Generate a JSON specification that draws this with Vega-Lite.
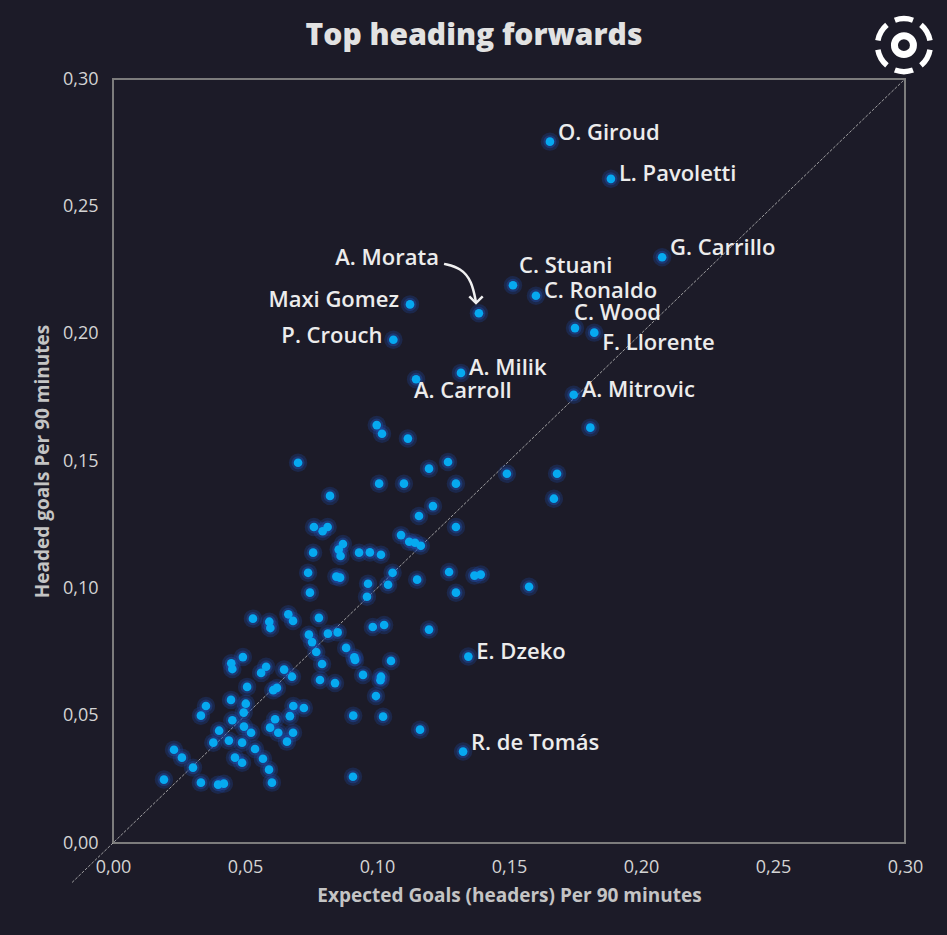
{
  "$schema": "https://vega.github.io/schema/vega-lite/v6.json",
  "width": 792,
  "height": 764,
  "autosize": {"type": "none"},
  "padding": {"left": 113, "top": 79, "right": 42, "bottom": 92},
  "background": "#1c1b28",
  "title": {"text": "Top heading forwards", "anchor": "middle", "dx": -35, "offset": -67, "baseline": "alphabetic", "font": "Open Sans", "fontSize": 30, "fontWeight": 800, "color": "#e2e2e2"},
  "config": {
    "view": {"stroke": "#7c7c7c", "strokeWidth": 2},
    "axis": {"grid": false, "ticks": false, "domain": false, "labelFlush": false, "labelFont": "Open Sans", "labelFontSize": 18, "labelFontWeight": 500, "labelColor": "#d4d4d4", "labelPadding": 15, "titleFont": "Open Sans", "titleFontSize": 19, "titleFontWeight": "bold", "titleColor": "#c4c4c4"}
  },
  "datasets": {
    "pts": [
      {"xg": 0.1655, "goals": 0.2754, "player": "O. Giroud"},
      {"xg": 0.1886, "goals": 0.2608, "player": "L. Pavoletti"},
      {"xg": 0.2080, "goals": 0.2300, "player": "G. Carrillo"},
      {"xg": 0.1515, "goals": 0.2190, "player": "C. Stuani"},
      {"xg": 0.1602, "goals": 0.2149, "player": "C. Ronaldo"},
      {"xg": 0.1386, "goals": 0.2080, "player": "A. Morata"},
      {"xg": 0.1125, "goals": 0.2115, "player": "Maxi Gomez"},
      {"xg": 0.1062, "goals": 0.1976, "player": "P. Crouch"},
      {"xg": 0.1750, "goals": 0.2022, "player": "C. Wood"},
      {"xg": 0.1823, "goals": 0.2004, "player": "F. Llorente"},
      {"xg": 0.1318, "goals": 0.1846, "player": "A. Milik"},
      {"xg": 0.1148, "goals": 0.1821, "player": "A. Carroll"},
      {"xg": 0.1745, "goals": 0.1760, "player": "A. Mitrovic"},
      {"xg": 0.1346, "goals": 0.0732, "player": "E. Dzeko"},
      {"xg": 0.1326, "goals": 0.0359, "player": "R. de Tomás"},
      {"xg": 0.1808, "goals": 0.1631, "player": ""},
      {"xg": 0.0999, "goals": 0.1641, "player": ""},
      {"xg": 0.1019, "goals": 0.1607, "player": ""},
      {"xg": 0.1117, "goals": 0.1588, "player": ""},
      {"xg": 0.0701, "goals": 0.1493, "player": ""},
      {"xg": 0.1197, "goals": 0.1470, "player": ""},
      {"xg": 0.1269, "goals": 0.1496, "player": ""},
      {"xg": 0.1008, "goals": 0.1411, "player": ""},
      {"xg": 0.1102, "goals": 0.1411, "player": ""},
      {"xg": 0.1299, "goals": 0.1411, "player": ""},
      {"xg": 0.1492, "goals": 0.1450, "player": ""},
      {"xg": 0.1682, "goals": 0.1450, "player": ""},
      {"xg": 0.1670, "goals": 0.1352, "player": ""},
      {"xg": 0.0822, "goals": 0.1363, "player": ""},
      {"xg": 0.1212, "goals": 0.1323, "player": ""},
      {"xg": 0.1159, "goals": 0.1284, "player": ""},
      {"xg": 0.1299, "goals": 0.1241, "player": ""},
      {"xg": 0.0761, "goals": 0.1241, "player": ""},
      {"xg": 0.0794, "goals": 0.1224, "player": ""},
      {"xg": 0.0813, "goals": 0.1241, "player": ""},
      {"xg": 0.1091, "goals": 0.1209, "player": ""},
      {"xg": 0.1122, "goals": 0.1183, "player": ""},
      {"xg": 0.1144, "goals": 0.1179, "player": ""},
      {"xg": 0.1166, "goals": 0.1167, "player": ""},
      {"xg": 0.0871, "goals": 0.1174, "player": ""},
      {"xg": 0.0855, "goals": 0.1152, "player": ""},
      {"xg": 0.0862, "goals": 0.1127, "player": ""},
      {"xg": 0.0758, "goals": 0.1140, "player": ""},
      {"xg": 0.0932, "goals": 0.1140, "player": ""},
      {"xg": 0.0973, "goals": 0.1141, "player": ""},
      {"xg": 0.1015, "goals": 0.1132, "player": ""},
      {"xg": 0.1059, "goals": 0.1061, "player": ""},
      {"xg": 0.0739, "goals": 0.1061, "player": ""},
      {"xg": 0.0846, "goals": 0.1046, "player": ""},
      {"xg": 0.0860, "goals": 0.1042, "player": ""},
      {"xg": 0.0966, "goals": 0.1018, "player": ""},
      {"xg": 0.1042, "goals": 0.1014, "player": ""},
      {"xg": 0.1152, "goals": 0.1034, "player": ""},
      {"xg": 0.1273, "goals": 0.1064, "player": ""},
      {"xg": 0.1369, "goals": 0.1050, "player": ""},
      {"xg": 0.1393, "goals": 0.1054, "player": ""},
      {"xg": 0.1299, "goals": 0.0983, "player": ""},
      {"xg": 0.0746, "goals": 0.0983, "player": ""},
      {"xg": 0.0962, "goals": 0.0967, "player": ""},
      {"xg": 0.1576, "goals": 0.1006, "player": ""},
      {"xg": 0.0530, "goals": 0.0881, "player": ""},
      {"xg": 0.0592, "goals": 0.0869, "player": ""},
      {"xg": 0.0596, "goals": 0.0844, "player": ""},
      {"xg": 0.0664, "goals": 0.0898, "player": ""},
      {"xg": 0.0682, "goals": 0.0872, "player": ""},
      {"xg": 0.0780, "goals": 0.0884, "player": ""},
      {"xg": 0.0742, "goals": 0.0818, "player": ""},
      {"xg": 0.0754, "goals": 0.0789, "player": ""},
      {"xg": 0.0814, "goals": 0.0822, "player": ""},
      {"xg": 0.0851, "goals": 0.0827, "player": ""},
      {"xg": 0.0984, "goals": 0.0848, "player": ""},
      {"xg": 0.1027, "goals": 0.0856, "player": ""},
      {"xg": 0.1197, "goals": 0.0838, "player": ""},
      {"xg": 0.0770, "goals": 0.0750, "player": ""},
      {"xg": 0.0883, "goals": 0.0766, "player": ""},
      {"xg": 0.0914, "goals": 0.0729, "player": ""},
      {"xg": 0.0917, "goals": 0.0719, "player": ""},
      {"xg": 0.1053, "goals": 0.0715, "player": ""},
      {"xg": 0.0492, "goals": 0.0730, "player": ""},
      {"xg": 0.0448, "goals": 0.0706, "player": ""},
      {"xg": 0.0452, "goals": 0.0683, "player": ""},
      {"xg": 0.0580, "goals": 0.0692, "player": ""},
      {"xg": 0.0561, "goals": 0.0668, "player": ""},
      {"xg": 0.0648, "goals": 0.0681, "player": ""},
      {"xg": 0.0678, "goals": 0.0653, "player": ""},
      {"xg": 0.0792, "goals": 0.0703, "player": ""},
      {"xg": 0.0784, "goals": 0.0640, "player": ""},
      {"xg": 0.0841, "goals": 0.0628, "player": ""},
      {"xg": 0.0947, "goals": 0.0660, "player": ""},
      {"xg": 0.1015, "goals": 0.0653, "player": ""},
      {"xg": 0.1013, "goals": 0.0639, "player": ""},
      {"xg": 0.0508, "goals": 0.0613, "player": ""},
      {"xg": 0.0607, "goals": 0.0600, "player": ""},
      {"xg": 0.0621, "goals": 0.0609, "player": ""},
      {"xg": 0.0447, "goals": 0.0562, "player": ""},
      {"xg": 0.0503, "goals": 0.0547, "player": ""},
      {"xg": 0.0495, "goals": 0.0512, "player": ""},
      {"xg": 0.0352, "goals": 0.0538, "player": ""},
      {"xg": 0.0333, "goals": 0.0500, "player": ""},
      {"xg": 0.0683, "goals": 0.0538, "player": ""},
      {"xg": 0.0723, "goals": 0.0530, "player": ""},
      {"xg": 0.0996, "goals": 0.0577, "player": ""},
      {"xg": 0.0910, "goals": 0.0500, "player": ""},
      {"xg": 0.1023, "goals": 0.0496, "player": ""},
      {"xg": 0.1163, "goals": 0.0445, "player": ""},
      {"xg": 0.0452, "goals": 0.0482, "player": ""},
      {"xg": 0.0496, "goals": 0.0457, "player": ""},
      {"xg": 0.0523, "goals": 0.0433, "player": ""},
      {"xg": 0.0614, "goals": 0.0486, "player": ""},
      {"xg": 0.0670, "goals": 0.0498, "player": ""},
      {"xg": 0.0595, "goals": 0.0453, "player": ""},
      {"xg": 0.0626, "goals": 0.0433, "player": ""},
      {"xg": 0.0682, "goals": 0.0433, "player": ""},
      {"xg": 0.0402, "goals": 0.0441, "player": ""},
      {"xg": 0.0380, "goals": 0.0394, "player": ""},
      {"xg": 0.0439, "goals": 0.0402, "player": ""},
      {"xg": 0.0489, "goals": 0.0394, "player": ""},
      {"xg": 0.0659, "goals": 0.0398, "player": ""},
      {"xg": 0.0538, "goals": 0.0369, "player": ""},
      {"xg": 0.0231, "goals": 0.0366, "player": ""},
      {"xg": 0.0261, "goals": 0.0335, "player": ""},
      {"xg": 0.0303, "goals": 0.0296, "player": ""},
      {"xg": 0.0462, "goals": 0.0335, "player": ""},
      {"xg": 0.0489, "goals": 0.0315, "player": ""},
      {"xg": 0.0568, "goals": 0.0331, "player": ""},
      {"xg": 0.0591, "goals": 0.0288, "player": ""},
      {"xg": 0.0602, "goals": 0.0237, "player": ""},
      {"xg": 0.0193, "goals": 0.0249, "player": ""},
      {"xg": 0.0333, "goals": 0.0237, "player": ""},
      {"xg": 0.0398, "goals": 0.0229, "player": ""},
      {"xg": 0.0420, "goals": 0.0233, "player": ""},
      {"xg": 0.0909, "goals": 0.0260, "player": ""}
    ]
  },
  "encoding": {
    "x": {"field": "xg", "type": "quantitative", "scale": {"domain": [0, 0.3], "nice": false, "zero": false},
      "axis": {"values": [0, 0.05, 0.1, 0.15, 0.2, 0.25, 0.3], "labelExpr": "replace(format(datum.value, '.2f'), '.', ',')", "title": "Expected Goals (headers) Per 90 minutes", "titlePadding": 10}},
    "y": {"field": "goals", "type": "quantitative", "scale": {"domain": [0, 0.3], "nice": false, "zero": false},
      "axis": {"values": [0, 0.05, 0.1, 0.15, 0.2, 0.25, 0.3], "labelExpr": "replace(format(datum.value, '.2f'), '.', ',')", "title": "Headed goals Per 90 minutes", "titlePadding": 10}}
  },
  "layer": [
    {
      "data": {"values": [{"xg": -0.0155, "goals": -0.0155, "xg2": 0.2995, "goals2": 0.2995}]},
      "mark": {"type": "rule", "color": "#b5b5b5", "strokeWidth": 1, "strokeDash": [3, 1.5], "opacity": 0.85},
      "encoding": {"x2": {"field": "xg2"}, "y2": {"field": "goals2"}}
    },
    {
      "data": {"name": "pts"},
      "mark": {"type": "circle", "size": 340, "color": "#1f4fb0", "opacity": 0.26}
    },
    {
      "data": {"name": "pts"},
      "mark": {"type": "circle", "size": 170, "color": "#1f56c0", "opacity": 0.35}
    },
    {
      "data": {"name": "pts"},
      "mark": {"type": "circle", "size": 75, "color": "#06a9f0", "opacity": 1}
    },
    {
      "data": {"name": "pts"},
      "transform": [{"filter": "indexof(['L. Pavoletti','C. Ronaldo','A. Milik','A. Mitrovic','E. Dzeko'], datum.player) >= 0"}],
      "mark": {"type": "text", "align": "left", "baseline": "middle", "dx": 8, "dy": -5, "font": "Open Sans", "fontSize": 22, "fontWeight": 600, "color": "#ececec"},
      "encoding": {"text": {"field": "player"}}
    },
    {
      "data": {"name": "pts"},
      "transform": [{"filter": "indexof(['O. Giroud','G. Carrillo','R. de Tomás'], datum.player) >= 0"}],
      "mark": {"type": "text", "align": "left", "baseline": "middle", "dx": 8, "dy": -9, "font": "Open Sans", "fontSize": 22, "fontWeight": 600, "color": "#ececec"},
      "encoding": {"text": {"field": "player"}}
    },
    {
      "data": {"name": "pts"},
      "transform": [{"filter": "datum.player == 'C. Stuani'"}],
      "mark": {"type": "text", "align": "left", "baseline": "middle", "dx": 6, "dy": -19, "font": "Open Sans", "fontSize": 22, "fontWeight": 600, "color": "#ececec"},
      "encoding": {"text": {"field": "player"}}
    },
    {
      "data": {"name": "pts"},
      "transform": [{"filter": "datum.player == 'C. Wood'"}],
      "mark": {"type": "text", "align": "left", "baseline": "middle", "dx": -1, "dy": -15, "font": "Open Sans", "fontSize": 22, "fontWeight": 600, "color": "#ececec"},
      "encoding": {"text": {"field": "player"}}
    },
    {
      "data": {"name": "pts"},
      "transform": [{"filter": "datum.player == 'F. Llorente'"}],
      "mark": {"type": "text", "align": "left", "baseline": "middle", "dx": 8, "dy": 10, "font": "Open Sans", "fontSize": 22, "fontWeight": 600, "color": "#ececec"},
      "encoding": {"text": {"field": "player"}}
    },
    {
      "data": {"name": "pts"},
      "transform": [{"filter": "datum.player == 'A. Carroll'"}],
      "mark": {"type": "text", "align": "left", "baseline": "middle", "dx": -2, "dy": 12, "font": "Open Sans", "fontSize": 22, "fontWeight": 600, "color": "#ececec"},
      "encoding": {"text": {"field": "player"}}
    },
    {
      "data": {"name": "pts"},
      "transform": [{"filter": "datum.player == 'Maxi Gomez' || datum.player == 'P. Crouch'"}],
      "mark": {"type": "text", "align": "right", "baseline": "middle", "dx": -11, "dy": -4, "font": "Open Sans", "fontSize": 22, "fontWeight": 600, "color": "#ececec"},
      "encoding": {"text": {"field": "player"}}
    },
    {
      "data": {"name": "pts"},
      "transform": [{"filter": "datum.player == 'A. Morata'"}],
      "mark": {"type": "text", "align": "right", "baseline": "middle", "dx": -40, "dy": -55, "font": "Open Sans", "fontSize": 22, "fontWeight": 600, "color": "#ececec"},
      "encoding": {"text": {"field": "player"}}
    },
    {
      "data": {"values": [
        {"xg": 0.1254, "goals": 0.2274, "ord": 1},
        {"xg": 0.1318, "goals": 0.2258, "ord": 2},
        {"xg": 0.1360, "goals": 0.2205, "ord": 3},
        {"xg": 0.1375, "goals": 0.2122, "ord": 4}
      ]},
      "mark": {"type": "line", "interpolate": "basis", "color": "#f0f0f0", "strokeWidth": 2.5},
      "encoding": {"order": {"field": "ord", "type": "quantitative"}}
    },
    {
      "data": {"values": [{"xg": 0.1375, "goals": 0.2120}]},
      "mark": {"type": "point", "shape": "M-1,-1L0,0L1,-1", "filled": false, "size": 180, "color": "#f0f0f0", "strokeWidth": 2.5, "opacity": 1}
    },
    {
      "data": {"values": [{"xg": 0.2996, "goals": 0.3133}]},
      "mark": {"type": "point", "shape": "circle", "filled": false, "size": 360, "color": "#ffffff", "strokeWidth": 7, "opacity": 1}
    },
    {
      "data": {"values": [{"xg": 0.2996, "goals": 0.3133}]},
      "mark": {"type": "point", "shape": "M-0.342,-0.94A1,1,0,0,1,0.342,-0.94M0.643,-0.766A1,1,0,0,1,0.985,-0.174M0.985,0.174A1,1,0,0,1,0.643,0.766M0.342,0.94A1,1,0,0,1,-0.342,0.94M-0.643,0.766A1,1,0,0,1,-0.985,0.174M-0.985,-0.174A1,1,0,0,1,-0.643,-0.766", "filled": false, "size": 2800, "color": "#ffffff", "strokeWidth": 5.5, "opacity": 1}
    }
  ]
}
